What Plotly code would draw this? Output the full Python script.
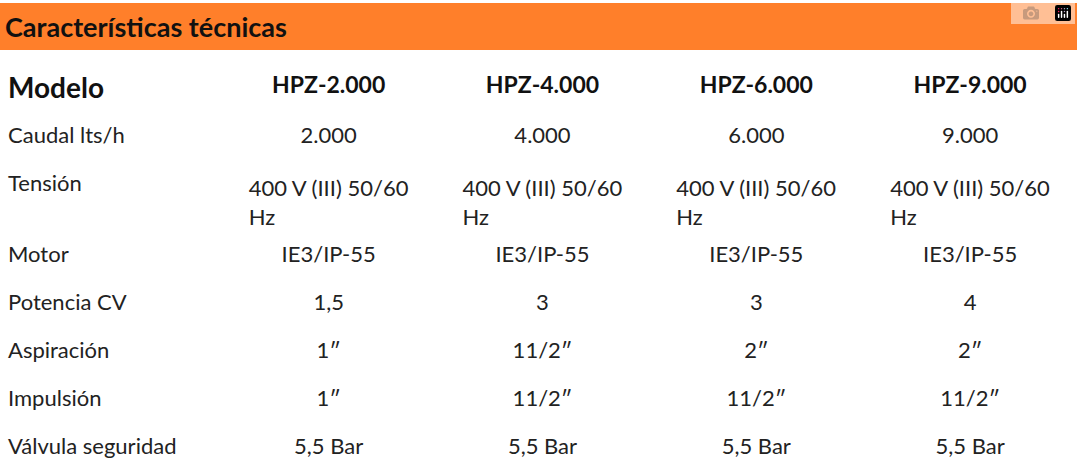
import plotly.graph_objects as go

titulo = "Características técnicas"
modelos = ["HPZ-2.000", "HPZ-4.000", "HPZ-6.000", "HPZ-9.000"]
filas = ["Caudal lts/h", "Tensión", "Motor", "Potencia CV", "Aspiración", "Impulsión", "Válvula seguridad"]
hpz_2000 = ["2.000", "400 V (III) 50/60 Hz", "IE3/IP-55", "1,5", "1″", "1″", "5,5 Bar"]
hpz_4000 = ["4.000", "400 V (III) 50/60 Hz", "IE3/IP-55", "3", "11/2″", "11/2″", "5,5 Bar"]
hpz_6000 = ["6.000", "400 V (III) 50/60 Hz", "IE3/IP-55", "3", "2″", "11/2″", "5,5 Bar"]
hpz_9000 = ["9.000", "400 V (III) 50/60 Hz", "IE3/IP-55", "4", "2″", "11/2″", "5,5 Bar"]

W, H = 1077, 462
naranja = "#FF7F2A"
fuente = "Lato"

fig = go.Figure()

fig.add_trace(go.Table(
    domain=dict(x=[0, 1], y=[0, 1 - 62 / H]),
    columnwidth=[223, 215, 215, 215, 215],
    header=dict(
        values=["<b>Modelo</b>"] + [f"<b>{m}</b>" for m in modelos],
        align=["left", "center", "center", "center", "center"],
        font=dict(family=fuente, size=[28, 23, 23, 23, 23], color="#111111"),
        fill_color="white",
        line_color="white",
        height=56,
    ),
    cells=dict(
        values=[filas, hpz_2000, hpz_4000, hpz_6000, hpz_9000],
        align=["left", "center", "center", "center", "center"],
        font=dict(family=fuente, size=[22, 22, 22, 22, 22], color="#222222"),
        fill_color="white",
        line_color="white",
        height=48,
    ),
))

# barra naranja del título
fig.add_shape(type="rect", xref="paper", yref="paper",
              x0=0, x1=1, y0=1 - 50 / H, y1=1 - 3 / H,
              fillcolor=naranja, line_width=0, layer="below")
fig.add_annotation(text=f"<b>{titulo}</b>", xref="paper", yref="paper",
                   x=3 / W, y=1 - 27 / H, xanchor="left", yanchor="middle",
                   showarrow=False, font=dict(family=fuente, size=27, color="#111111"))

fig.update_layout(
    width=W, height=H,
    margin=dict(l=0, r=0, t=0, b=0),
    paper_bgcolor="white",
    plot_bgcolor="white",
)

fig.write_html("out.html", post_script="document.body.style.margin='0';")
